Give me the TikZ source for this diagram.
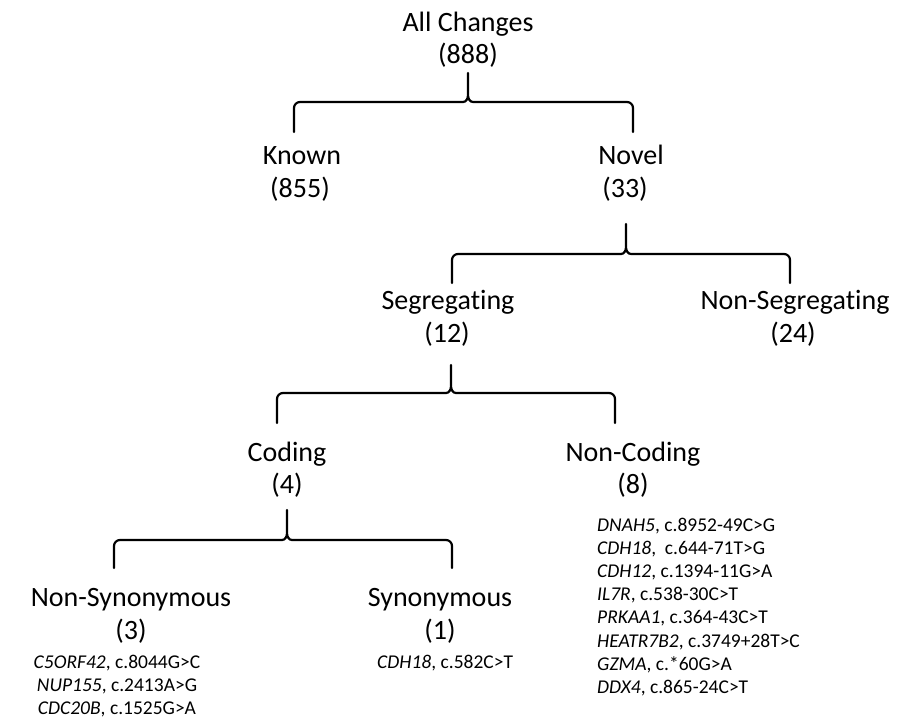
\documentclass[tikz,border=0pt]{standalone}
\usepackage{fontspec}
\setmainfont{Carlito}[Ligatures={NoCommon}]

\tikzset{
  bracket/.style={line width=2.2pt,line cap=round,line join=round},
  lab/.style={anchor=base,inner sep=0pt,font=\fontsize{28}{34}\selectfont},
  gene/.style={anchor=base,inner sep=0pt,font=\fontsize{19.5}{23}\selectfont}
}

% brace from a tip down to two feet, bar height given by a coordinate
\newcommand{\bracket}[4]{%
  \draw[bracket] (#3) -- ([yshift=-6pt]#2 -| #3) to[out=90,in=180] ([xshift=6pt]#2 -| #3)
    -- ([xshift=-5pt]#2) to[out=0,in=-90] ([yshift=7pt]#2) -- (#1)
    -- ([yshift=7pt]#2) to[out=-90,in=180] ([xshift=5pt]#2)
    -- ([xshift=-6pt]#2 -| #4) to[out=0,in=90] ([yshift=-6pt]#2 -| #4) -- (#4);}

\begin{document}
\begin{tikzpicture}[x=1pt,y=1pt]
        
        \useasboundingbox (0,0) rectangle (897,-719);
        
        % labels
        \node[lab] (all) at (468,-32) {All Changes};
        \node[lab] (all-n) at (468,-64) {(888)};
        \node[lab] (known) at (302,-165) {Known};
        \node[lab] (known-n) at (300,-198) {(855)};
        \node[lab] (novel) at (631,-165) {Novel};
        \node[lab] (novel-n) at (625,-198) {(33)};
        \node[lab] (seg) at (448,-310) {Segregating};
        \node[lab] (seg-n) at (447,-342) {(12)};
        \node[lab] (nonseg) at (795,-310) {Non-Segregating};
        \node[lab] (nonseg-n) at (793,-342) {(24)};
        \node[lab] (cod) at (287,-461) {Coding};
        \node[lab] (cod-n) at (287,-493) {(4)};
        \node[lab] (noncod) at (633,-461) {Non-Coding};
        \node[lab] (noncod-n) at (633,-493) {(8)};
        \node[lab] (nonsyn) at (131,-606) {Non-Synonymous};
        \node[lab] (nonsyn-n) at (131,-639) {(3)};
        \node[lab] (syn) at (440,-606) {Synonymous};
        \node[lab] (syn-n) at (440,-639) {(1)};
        
        % variants
        \node[gene] (ns-1) at (117,-668) {\textit{C5ORF42}, c.8044G>C};
        \node[gene] (ns-2) at (117,-691) {\textit{NUP155}, c.2413A>G};
        \node[gene] (ns-3) at (117,-714) {\textit{CDC20B}, c.1525G>A};
        \node[gene,anchor=base west] (sy-1) at (377,-668) {\textit{CDH18}, c.582C>T};
        \foreach \g [count=\i] in {{\textit{DNAH5}, c.8952-49C>G},
            {\textit{CDH18}, \ c.644-71T>G},{\textit{CDH12}, c.1394-11G>A},
            {\textit{IL7R}, c.538-30C>T},{\textit{PRKAA1}, c.364-43C>T},
            {\textit{HEATR7B2}, c.3749+28T>C},{\textit{GZMA}, c.*60G>A},
            {\textit{DDX4}, c.865-24C>T}}
          \node[gene,anchor=base west] (nc-\i) at (597,-531-23.2*\i+23.2) {\g};
        
        % brace points
        \coordinate (all-tip) at (468,-73);
        \coordinate (all-bar) at (468,-102);
        \coordinate (known-top) at (294,-132);
        \coordinate (novel-top) at (633,-132);
        \coordinate (novel-tip) at (626,-224);
        \coordinate (novel-bar) at (626,-254);
        \coordinate (seg-top) at (452,-283);
        \coordinate (nonseg-top) at (790,-283);
        \coordinate (seg-tip) at (451,-365);
        \coordinate (seg-bar) at (451,-393);
        \coordinate (cod-top) at (277,-423);
        \coordinate (noncod-top) at (615,-423);
        \coordinate (cod-tip) at (287,-510);
        \coordinate (cod-bar) at (287,-540);
        \coordinate (nonsyn-top) at (114,-568);
        \coordinate (syn-top) at (452,-568);
        
        \bracket{all-tip}{all-bar}{known-top}{novel-top}
        \bracket{novel-tip}{novel-bar}{seg-top}{nonseg-top}
        \bracket{seg-tip}{seg-bar}{cod-top}{noncod-top}
        \bracket{cod-tip}{cod-bar}{nonsyn-top}{syn-top}
        
\end{tikzpicture}
\end{document}
